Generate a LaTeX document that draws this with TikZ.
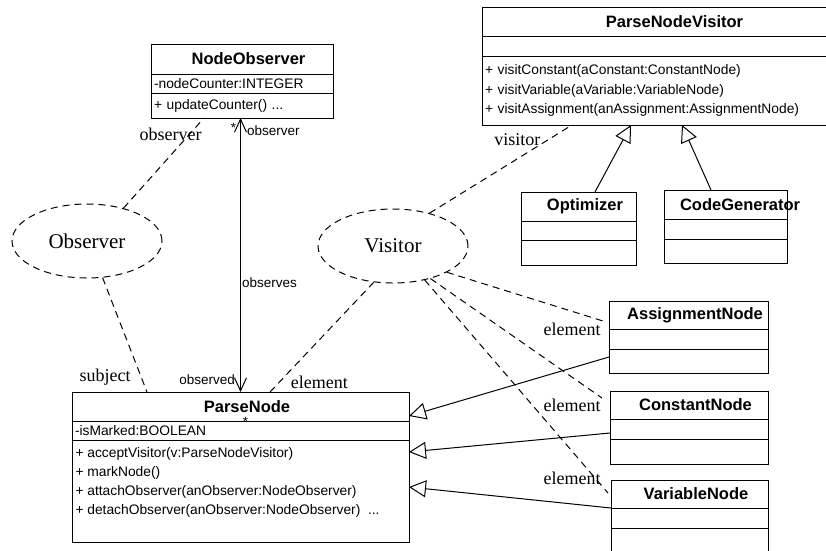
\documentclass[tikz,border=0pt]{standalone}
\usepackage{fontspec}
\setmainfont{Liberation Serif}
\setsansfont{Liberation Sans}
\usetikzlibrary{positioning,shapes.geometric,arrows.meta}

\begin{document}
\begin{tikzpicture}[x=1pt, y=-1pt, line width=1pt,
    clshead/.style={draw, outer sep=0pt, inner xsep=3pt, inner ysep=0pt, text width=#1, align=center,
        execute at begin node={\hyphenpenalty=10000\hspace*{13pt}},
        font=\sffamily\bfseries\fontsize{16.5}{18}\selectfont},
    clsbody/.style={draw, outer sep=0pt, inner xsep=3pt, inner ysep=0pt, text width=#1, align=left,
        font=\sffamily\fontsize{13.8}{19.5}\selectfont},
    members/.style={inner sep=0pt, align=left, font=\sffamily\fontsize{13.8}{19}\selectfont},
    collab/.style={draw, ellipse, dash pattern=on 7pt off 5pt, minimum width=150pt, minimum height=74pt,
        inner sep=0pt, font=\rmfamily\fontsize{21}{24}\selectfont},
    rolename/.style={inner sep=0pt, font=\rmfamily\fontsize{18}{20}\selectfont},
    assocname/.style={inner sep=0pt, font=\sffamily\fontsize{13.5}{16}\selectfont},
    dashline/.style={dash pattern=on 7pt off 5pt},
    assoc/.style={<->, >={Straight Barb[length=13pt, width=12pt]}},
    generalize/.style={-{Triangle[open, length=17pt, width=17pt]}}]
    \clip (0,0) rectangle (826,550);

    % classes
    \node[clshead=176pt, minimum height=30pt, anchor=north west] (no) at (151,44) {NodeObserver};
    \node[clsbody=176pt, minimum height=19pt, below=0pt of no] (no-attr) {-nodeCounter:INTEGER};
    \node[clsbody=176pt, minimum height=25pt, below=0pt of no-attr] (no-ops) {+ updateCounter() ...};

    \node[clshead=366pt, minimum height=29pt, anchor=north west] (pnv) at (482,7) {ParseNodeVisitor};
    \node[clsbody=366pt, minimum height=20pt, below=0pt of pnv] (pnv-attr) {};
    \node[clsbody=366pt, minimum height=69pt, below=0pt of pnv-attr] (pnv-ops)
        {+ visitConstant(aConstant:ConstantNode)\\ + visitVariable(aVariable:VariableNode)\\
         + visitAssignment(anAssignment:AssignmentNode)};

    \node[clshead=109pt, minimum height=29pt, anchor=north west] (opt) at (521,192) {Optimizer};
    \node[clsbody=109pt, minimum height=19pt, below=0pt of opt] (opt-attr) {};
    \node[clsbody=109pt, minimum height=25pt, below=0pt of opt-attr] (opt-ops) {};

    \node[clshead=117pt, minimum height=29pt, anchor=north west] (cg) at (664,190) {CodeGenerator};
    \node[clsbody=117pt, minimum height=20pt, below=0pt of cg] (cg-attr) {};
    \node[clsbody=117pt, minimum height=24pt, below=0pt of cg-attr] (cg-ops) {};

    \node[clshead=153pt, minimum height=28pt, anchor=north west] (an) at (609,301) {AssignmentNode};
    \node[clsbody=153pt, minimum height=20pt, below=0pt of an] (an-attr) {};
    \node[clsbody=153pt, minimum height=24pt, below=0pt of an-attr] (an-ops) {};

    \node[clshead=152pt, minimum height=28pt, anchor=north west] (cn) at (610,391) {ConstantNode};
    \node[clsbody=152pt, minimum height=20pt, below=0pt of cn] (cn-attr) {};
    \node[clsbody=152pt, minimum height=25pt, below=0pt of cn-attr] (cn-ops) {};

    \node[clshead=151pt, minimum height=28pt, anchor=north west] (vn) at (611,480) {VariableNode};
    \node[clsbody=151pt, minimum height=20pt, below=0pt of vn] (vn-attr) {};
    \node[clsbody=151pt, minimum height=30pt, below=0pt of vn-attr] (vn-ops) {};

    \node[clshead=331pt, minimum height=29pt, anchor=north west] (pn) at (72,392) {ParseNode};
    \node[clsbody=331pt, minimum height=19pt, below=0pt of pn] (pn-attr) {-isMarked:BOOLEAN};
    \node[clsbody=331pt, minimum height=102pt, below=0pt of pn-attr] (pn-ops) {};
    \node[members, anchor=north west] (pn-list) at ([xshift=3pt,yshift=-7pt]pn-ops.north west)
        {+ acceptVisitor(v:ParseNodeVisitor)\\ + markNode()\\ + attachObserver(anObserver:NodeObserver)\\
         + detachObserver(anObserver:NodeObserver)\ \ ...};

    % patterns
    \node[collab] (obs) at (87,241) {Observer};
    \node[collab] (vis) at (393,246) {Visitor};

    % roles
    \draw[dashline] (obs.42) -- node[rolename, pos=0.82, xshift=-19pt] {observer} ([xshift=53pt]no-ops.south west);
    \draw[dashline] (obs.-67) -- node[rolename, pos=0.87, left=10pt] {subject} ([xshift=75pt]pn.north west);
    \draw[dashline] (vis.42) -- node[rolename, pos=0.83, left=7pt] {visitor} ([xshift=90pt]pnv-ops.south west);
    \draw[dashline] (vis.-118) -- node[rolename, pos=0.91, right=11pt] {element} ([xshift=198pt]pn.north west);
    \draw[dashline] (vis.-26) -- ([xshift=-6pt,yshift=-20pt]an.north west)
        node[rolename, anchor=north east, xshift=-2pt, yshift=-1pt] {element};
    \draw[dashline] (vis.-41) -- ([xshift=-8pt,yshift=-7pt]cn.north west)
        node[rolename, anchor=north east, xshift=-1pt] {element};
    \draw[dashline] (vis.-47) -- ([xshift=-3pt,yshift=-13pt]vn.north west)
        node[rolename, anchor=south east, xshift=-7pt, yshift=8pt] {element};

    % association
    \draw[assoc] (pn.north |- no-ops.south) -- node[assocname, pos=0.035, left=4pt] {*}
        node[assocname, pos=0.045, right=6pt] {observer}
        node[assocname, pos=0.6, right=1pt] {observes}
        node[assocname, pos=0.955, left=5pt] {observed} (pn.north);
    \node[assocname] (pn-mult) at ([xshift=5pt,yshift=-30pt]pn.north) {*};

    % inheritance
    \draw[generalize] ([xshift=16.5pt]opt.north) -- ([xshift=149pt]pnv-ops.south west);
    \draw[generalize] ([xshift=-14.5pt]cg.north) -- ([xshift=200pt]pnv-ops.south west);
    \draw[generalize] ([yshift=4pt]an-ops.west) -- ([yshift=5pt]pn-attr.north east);
    \draw[generalize] ([yshift=-4pt]cn-attr.west) -- ([yshift=-12pt]pn-ops.north east);
    \draw[generalize] (vn-attr.north west) -- ([yshift=-47pt]pn-ops.north east);

\end{tikzpicture}
\end{document}
